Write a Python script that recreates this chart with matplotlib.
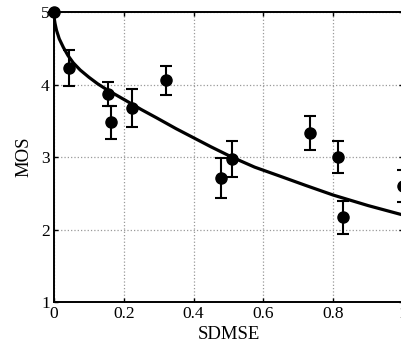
import matplotlib.pyplot as plt

plt.rcParams['font.family'] = ['Liberation Serif', 'DejaVu Serif']

# measured points (SDMSE, MOS, error)
sdmse = [0.0, 0.043, 0.155, 0.163, 0.224, 0.321, 0.478, 0.51, 0.733, 0.814, 0.828, 1.0]
mos = [5.0, 4.23, 3.87, 3.48, 3.68, 4.06, 2.71, 2.97, 3.33, 3.0, 2.17, 2.6]
err = [0.0, 0.25, 0.17, 0.23, 0.26, 0.2, 0.28, 0.25, 0.24, 0.22, 0.23, 0.22]

# fitted curve
fit_x = [0.0, 0.001, 0.003, 0.007, 0.015, 0.027, 0.04, 0.055, 0.075, 0.1, 0.125,
         0.151, 0.18, 0.218, 0.25, 0.294, 0.35, 0.4, 0.45, 0.509, 0.575, 0.648,
         0.72, 0.8, 0.9, 1.0]
fit_y = [5.0, 4.90, 4.84, 4.75, 4.63, 4.51, 4.40, 4.30, 4.20, 4.10, 4.01,
         3.93, 3.85, 3.745, 3.655, 3.54, 3.39, 3.265, 3.14, 3.0, 2.86, 2.735,
         2.61, 2.475, 2.33, 2.2]

fig = plt.figure(figsize=(4.01, 3.51), dpi=100)
ax = fig.add_axes([0.1347, 0.1396, 0.8703, 0.8262])

ax.plot(fit_x, fit_y, color='black', lw=2.3)
ax.errorbar(sdmse, mos, yerr=err, fmt='o', color='black', ms=8,
            capsize=4, elinewidth=1.5, capthick=1.5, clip_on=False)

ax.set_xlim(0, 1)
ax.set_ylim(1, 5)
ax.set_xticks([0, 0.2, 0.4, 0.6, 0.8, 1])
ax.set_xticklabels(['0', '0.2', '0.4', '0.6', '0.8', '1'])
ax.set_yticks([1, 2, 3, 4, 5])
ax.grid(True, linestyle=':', color='#999999', lw=0.9)
ax.tick_params(direction='in', top=True, right=True, labelsize=12.5, length=3, width=1)
ax.tick_params(axis='x', pad=3)
ax.tick_params(axis='y', pad=3)
for s in ax.spines.values():
    s.set_linewidth(1.4)

ax.set_xlabel('SDMSE', fontsize=13.5, labelpad=3)
ax.set_ylabel('MOS', fontsize=13.5, labelpad=6)

fig.savefig('out.png', dpi=100)
